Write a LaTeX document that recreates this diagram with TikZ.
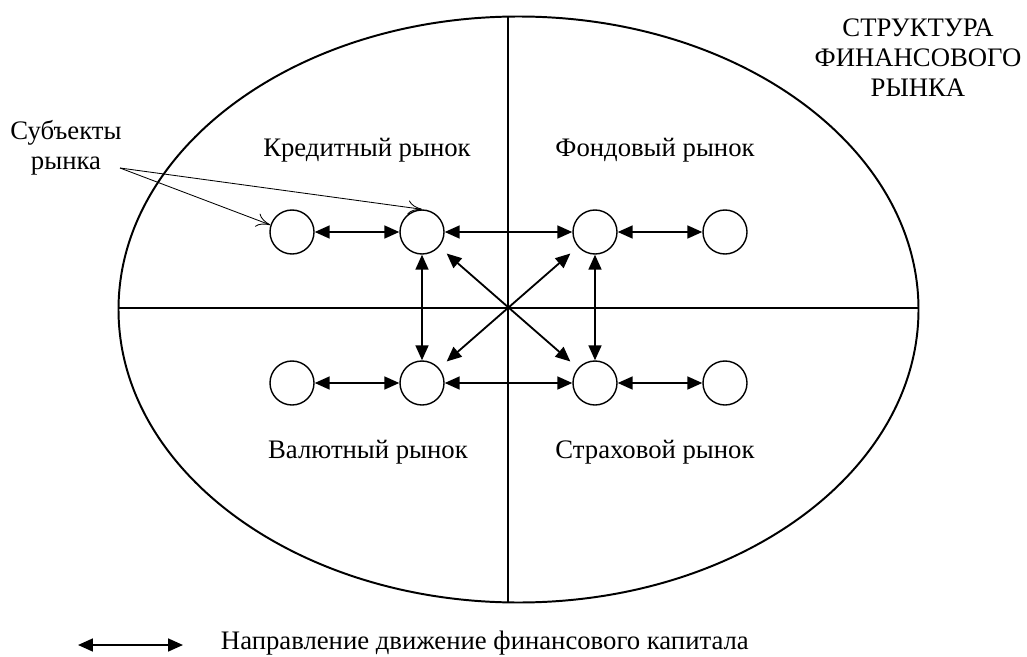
\documentclass[tikz,border=0pt]{standalone}
\usepackage{fontspec}
\setmainfont{Liberation Serif}
\usetikzlibrary{arrows.meta}
\begin{document}
\begin{tikzpicture}[x=0.025cm, y=-0.025cm,
    every node/.style={font=\fontsize{19}{21.3}\selectfont},
    subj/.style={circle, draw, line width=1pt, minimum size=1.1cm, inner sep=0pt},
    flow/.style={{Triangle[length=0.37cm,width=0.32cm]}-{Triangle[length=0.37cm,width=0.32cm]}, line width=1.3pt},
    pointer/.style={-{To[length=0.35cm,width=0.35cm]}, line width=0.6pt}]
        \useasboundingbox (0,0) rectangle (1027,657);

        \draw[line width=1.4pt] (518.5,309.5) ellipse [x radius=400, y radius=293];
        \draw[line width=1pt] (508,16) -- (508,603);
        \draw[line width=1pt] (118,308) -- (919,308);

        \node[subj] (k1) at (292,232) {};
        \node[subj] (k2) at (422,232) {};
        \node[subj] (f1) at (595,232) {};
        \node[subj] (f2) at (725,232) {};
        \node[subj] (v1) at (292,383) {};
        \node[subj] (v2) at (422,383) {};
        \node[subj] (s1) at (595,383) {};
        \node[subj] (s2) at (725,383) {};

        \draw[flow] (k1) -- (k2);
        \draw[flow] (k2) -- (f1);
        \draw[flow] (f1) -- (f2);
        \draw[flow] (v1) -- (v2);
        \draw[flow] (v2) -- (s1);
        \draw[flow] (s1) -- (s2);
        \draw[flow] (k2) -- (v2);
        \draw[flow] (f1) -- (s1);
        \draw[flow, shorten >=0.25cm, shorten <=0.25cm] (k2) -- (s1);
        \draw[flow, shorten >=0.25cm, shorten <=0.25cm] (f1) -- (v2);

        \node (kred) at (367,150) {Кредитный рынок};
        \node (fond) at (655,150) {Фондовый рынок};
        \node (valut) at (368,452) {Валютный рынок};
        \node (strah) at (655,452) {Страховой рынок};
        \node[align=center] (title) at (918,58) {СТРУКТУРА\\ФИНАНСОВОГО\\РЫНКА};

        \node[align=center] (subjects) at (66,148) {Субъекты\\рынка};
        \coordinate (sfrom) at (120,168);
        \draw[pointer] (sfrom) -- (k1.162);
        \draw[pointer] (sfrom) -- (k2.north);

        \coordinate (la) at (78,645);
        \coordinate (lb) at (183,645);
        \draw[flow] (la) -- (lb);
        \node[anchor=west] (legend) at (216,643) {Направление движение финансового капитала};
      \end{tikzpicture}
\end{document}
